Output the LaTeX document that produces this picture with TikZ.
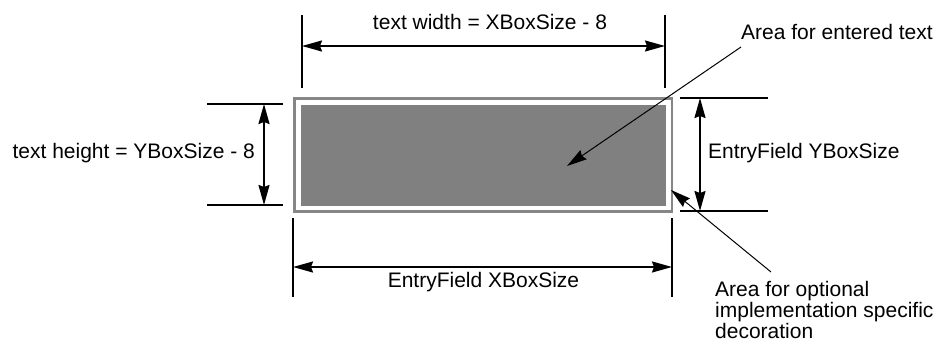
\documentclass[tikz,border=0pt]{standalone}
\usepackage{fontspec}
\setmainfont{Liberation Sans}
\usetikzlibrary{arrows.meta}
\begin{document}
\begin{tikzpicture}[x=1pt,y=-1pt,
  ext/.style={black,line width=1.6pt},
  tip/.tip={Stealth[length=20pt,width=11pt,inset=2pt]},
  dim/.style={black,line width=1.8pt,tip-tip},
  leader/.style={black,line width=1pt,-tip},
  lbl/.style={font=\fontsize{21}{18}\selectfont,inner sep=0pt}]
\useasboundingbox (0,0) rectangle (939,345);
% field: outer frame and text area
\draw[gray!95,line width=2.6pt] (294.5,98.5) rectangle (672,211.5);
\fill[gray] (300.5,105) rectangle (666,206);
% top dimension
\coordinate (t1a) at (302,15); \coordinate (t1b) at (302,88);
\coordinate (t2a) at (665,15); \coordinate (t2b) at (665,88);
\draw[ext] (t1a) -- (t1b);
\draw[ext] (t2a) -- (t2b);
\coordinate (tl) at (302,46); \coordinate (tr) at (665,46);
\draw[dim] (tl) -- (tr);
\node[lbl,anchor=base] (tw) at (490,30) {text width = XBoxSize - 8};
% bottom dimension
\coordinate (b1a) at (293,218); \coordinate (b1b) at (293,297);
\coordinate (b2a) at (672,218); \coordinate (b2b) at (672,297);
\draw[ext] (b1a) -- (b1b);
\draw[ext] (b2a) -- (b2b);
\coordinate (bl) at (293,267); \coordinate (br) at (672,267);
\draw[dim] (bl) -- (br);
\node[lbl,anchor=base] (bw) at (483.5,287) {EntryField XBoxSize};
% left dimension
\coordinate (l1a) at (207,104); \coordinate (l1b) at (283,104);
\coordinate (l2a) at (207,205); \coordinate (l2b) at (283,205);
\draw[ext] (l1a) -- (l1b);
\draw[ext] (l2a) -- (l2b);
\coordinate (lt) at (264,104); \coordinate (lb) at (264,205);
\draw[dim] (lt) -- (lb);
\node[lbl,anchor=base east] (th) at (255,158) {text height = YBoxSize - 8};
% right dimension
\coordinate (r1a) at (680,98); \coordinate (r1b) at (768,98);
\coordinate (r2a) at (680,211); \coordinate (r2b) at (768,211);
\draw[ext] (r1a) -- (r1b);
\draw[ext] (r2a) -- (r2b);
\coordinate (rt) at (700,98); \coordinate (rb) at (700,211);
\draw[dim] (rt) -- (rb);
\node[lbl,anchor=base west] (ty) at (708,158) {EntryField YBoxSize};
% callouts
\node[lbl,anchor=base west] (ae) at (741,39.5) {Area for entered text};
\coordinate (aes) at (741,47); \coordinate (aet) at (567,166);
\draw[leader] (aes) -- (aet);
\node[lbl,anchor=base west,align=left] (ad) at (715,338)
  {Area for optional\\implementation specific\\decoration};
\coordinate (ads) at (771,272); \coordinate (adt) at (671,190);
\draw[leader] (ads) -- (adt);
\end{tikzpicture}
\end{document}
